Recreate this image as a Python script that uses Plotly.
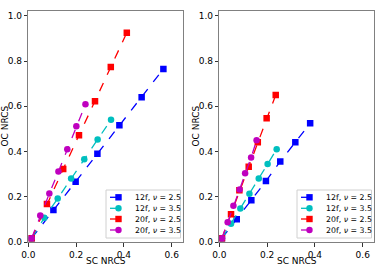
import plotly.graph_objects as go

# Left panel data
L_12f_25_x = [0.014, 0.105, 0.198, 0.289, 0.381, 0.474, 0.565]
L_12f_25_y = [0.018, 0.142, 0.267, 0.391, 0.516, 0.640, 0.765]
L_12f_35_x = [0.014, 0.067, 0.123, 0.179, 0.234, 0.290, 0.346]
L_12f_35_y = [0.018, 0.108, 0.193, 0.281, 0.367, 0.454, 0.541]
L_20f_25_x = [0.014, 0.078, 0.146, 0.212, 0.279, 0.345, 0.412]
L_20f_25_y = [0.018, 0.169, 0.323, 0.472, 0.622, 0.774, 0.925]
L_20f_35_x = [0.014, 0.050, 0.088, 0.126, 0.163, 0.201, 0.239]
L_20f_35_y = [0.018, 0.118, 0.215, 0.312, 0.411, 0.512, 0.609]

# Right panel data
R_12f_25_x = [0.011, 0.073, 0.134, 0.195, 0.255, 0.318, 0.380]
R_12f_25_y = [0.018, 0.102, 0.186, 0.270, 0.357, 0.441, 0.525]
R_12f_35_x = [0.011, 0.049, 0.088, 0.126, 0.165, 0.202, 0.240]
R_12f_35_y = [0.018, 0.082, 0.149, 0.214, 0.281, 0.345, 0.411]
R_20f_25_x = [0.011, 0.049, 0.084, 0.123, 0.161, 0.198, 0.236]
R_20f_25_y = [0.018, 0.124, 0.230, 0.333, 0.441, 0.547, 0.650]
R_20f_35_x = [0.011, 0.035, 0.059, 0.085, 0.108, 0.133, 0.156]
R_20f_35_y = [0.018, 0.088, 0.161, 0.233, 0.305, 0.374, 0.450]

labels = ["12f, <i>ν</i> = 2.5", "12f, <i>ν</i> = 3.5", "20f, <i>ν</i> = 2.5", "20f, <i>ν</i> = 3.5"]
colors = ["#0000ff", "#00bfbf", "#ff0000", "#bf00bf"]
symbols = ["square", "circle", "square", "circle"]
x_title = "SC NRCS"
y_title = "OC NRCS"

left = [(L_12f_25_x, L_12f_25_y), (L_12f_35_x, L_12f_35_y), (L_20f_25_x, L_20f_25_y), (L_20f_35_x, L_20f_35_y)]
right = [(R_12f_25_x, R_12f_25_y), (R_12f_35_x, R_12f_35_y), (R_20f_25_x, R_20f_25_y), (R_20f_35_x, R_20f_35_y)]

W, H = 382, 269
fig = go.Figure()
for panel, xa, ya in [(left, "x", "y"), (right, "x2", "y2")]:
    for i, (xs, ys) in enumerate(panel):
        fig.add_trace(go.Scatter(
            x=xs, y=ys, mode="lines+markers", name=labels[i], showlegend=False,
            xaxis=xa, yaxis=ya,
            line=dict(color=colors[i], width=1.3, dash="dash"),
            marker=dict(color=colors[i], symbol=symbols[i], size=6.5),
        ))

font = dict(family="DejaVu Sans", size=9, color="black")
axis_common = dict(showline=True, mirror=True, linecolor="#808080", linewidth=1,
                   ticks="outside", ticklen=3.5, tickwidth=0.8, tickcolor="#333",
                   showgrid=False, zeroline=False, tickfont=font, tickformat=".1f",
                   automargin=False, dtick=0.2, tick0=0)

y_dom = [(H - 242.3) / H, (H - 10.7) / H]
x_doms = [(28.3, 183.0), (219.3, 374.0)]

fig.update_layout(
    width=W, height=H, margin=dict(l=0, r=0, t=0, b=0), showlegend=False,
    paper_bgcolor="white", plot_bgcolor="white", font=font,
    xaxis=dict(domain=[x_doms[0][0] / W, x_doms[0][1] / W], anchor="y", range=[0, 0.647], **axis_common),
    yaxis=dict(domain=y_dom, anchor="x", range=[0, 1.022], **axis_common),
    xaxis2=dict(domain=[x_doms[1][0] / W, x_doms[1][1] / W], anchor="y2", range=[0, 0.647], **axis_common),
    yaxis2=dict(domain=y_dom, anchor="x2", range=[0, 1.022], **axis_common),
)

def px_x(p):
    return p / W

def px_y(p):
    return 1 - p / H

shapes = []
annotations = []
for k, (x0, x1) in enumerate(x_doms):
    off = x0 - 28.3
    # axis titles
    annotations.append(dict(text=x_title, x=px_x((x0 + x1) / 2), y=px_y(260.5), xref="paper", yref="paper",
                            showarrow=False, font=font, xanchor="center", yanchor="middle"))
    annotations.append(dict(text=y_title, x=px_x(4.0 + off), y=px_y(126.5), xref="paper", yref="paper",
                            showarrow=False, font=font, textangle=-90, xanchor="center", yanchor="middle"))
    # legend box
    bx0, bx1, by0, by1 = 106 + off, 180.5 + off, 190, 238
    shapes.append(dict(type="rect", xref="paper", yref="paper", x0=px_x(bx0), x1=px_x(bx1),
                       y0=px_y(by1), y1=px_y(by0), line=dict(color="#d0d0d0", width=1),
                       fillcolor="rgba(255,255,255,0.8)", layer="above"))
    ys_leg = [197.3, 208.3, 219.0, 230.0]
    for i, yy in enumerate(ys_leg):
        shapes.append(dict(type="line", xref="paper", yref="paper", x0=px_x(110 + off), x1=px_x(126.5 + off),
                           y0=px_y(yy), y1=px_y(yy), line=dict(color=colors[i], width=1.3, dash="dash"), layer="above"))
        cx = 118.5 + off
        r = 3.2
        shapes.append(dict(type="rect" if symbols[i] == "square" else "circle", xref="paper", yref="paper",
                           x0=px_x(cx - r), x1=px_x(cx + r), y0=px_y(yy + r), y1=px_y(yy - r),
                           line=dict(width=0), fillcolor=colors[i], layer="above"))
        annotations.append(dict(text=labels[i], x=px_x(132.5 + off), y=px_y(yy), xref="paper", yref="paper",
                                showarrow=False, xanchor="left", yanchor="middle",
                                font=dict(family="DejaVu Sans", size=7.8, color="black")))

fig.update_layout(shapes=shapes, annotations=annotations)
fig.write_html("out.html", config={"displayModeBar": False},
               post_script="document.body.style.margin='0';document.body.style.overflow='hidden';")
